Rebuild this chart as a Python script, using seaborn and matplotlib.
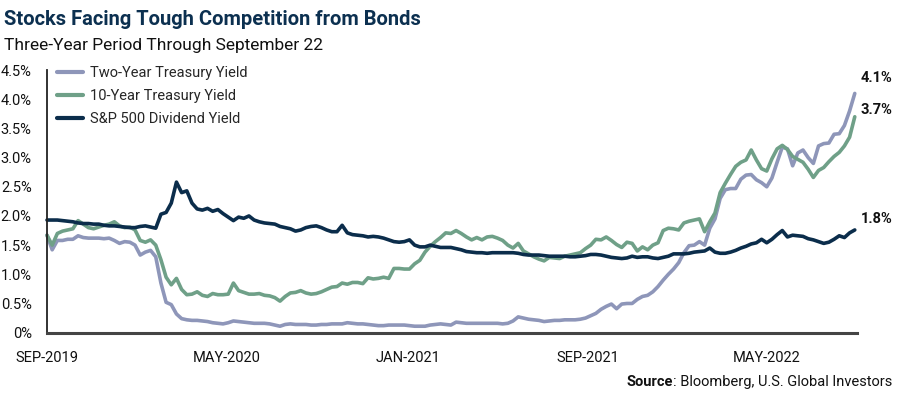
import pandas as pd
import matplotlib
matplotlib.use('Agg')
import matplotlib.pyplot as plt
import seaborn as sns

sns.set_style('white')
plt.rcParams['font.family'] = ['Roboto', 'DejaVu Sans']

# weekly readings, late Sep 2019 through Sep 2022
dates = pd.date_range('2019-09-27', periods=157, freq='7D')

two_year = [
    1.67, 1.42, 1.58, 1.58, 1.60, 1.60, 1.66, 1.63, 1.62, 1.62,
    1.62, 1.61, 1.62, 1.58, 1.53, 1.56, 1.55, 1.50, 1.33, 1.38,
    1.41, 1.30, 0.85, 0.52, 0.48, 0.32, 0.24, 0.22, 0.21, 0.21,
    0.20, 0.19, 0.17, 0.16, 0.15, 0.17, 0.20, 0.19, 0.18, 0.17,
    0.16, 0.16, 0.16, 0.15, 0.13, 0.11, 0.14, 0.15, 0.14, 0.14,
    0.14, 0.13, 0.13, 0.14, 0.14, 0.15, 0.15, 0.15, 0.17, 0.16,
    0.15, 0.15, 0.14, 0.13, 0.12, 0.12, 0.13, 0.13, 0.13, 0.13,
    0.12, 0.11, 0.11, 0.11, 0.13, 0.14, 0.15, 0.14,
    0.13, 0.18, 0.17, 0.16, 0.16, 0.16, 0.16, 0.16, 0.16, 0.16,
    0.15, 0.16, 0.20, 0.27, 0.25, 0.23, 0.22, 0.21, 0.19, 0.20,
    0.21, 0.21, 0.22, 0.22, 0.22, 0.23, 0.25, 0.29, 0.33, 0.40,
    0.45, 0.49, 0.41, 0.49, 0.50, 0.50, 0.57, 0.62, 0.64, 0.70,
    0.79, 0.90, 1.00, 1.09, 1.20, 1.37, 1.49, 1.50, 1.56, 1.50,
    1.79, 1.95, 2.30, 2.45, 2.47, 2.47, 2.63, 2.70, 2.71, 2.62,
    2.57, 2.50, 2.65, 2.92, 3.18, 3.15, 2.86, 3.08, 3.13, 3.00,
    2.90, 3.20, 3.24, 3.25, 3.40, 3.41, 3.55, 3.80, 4.10,
]

ten_year = [
    1.67, 1.50, 1.70, 1.74, 1.76, 1.78, 1.92, 1.86, 1.80, 1.78,
    1.81, 1.84, 1.86, 1.90, 1.83, 1.80, 1.81, 1.76, 1.58, 1.55,
    1.59, 1.50, 1.25, 0.95, 0.82, 0.93, 0.74, 0.65, 0.66, 0.70,
    0.64, 0.62, 0.67, 0.65, 0.65, 0.66, 0.85, 0.72, 0.69, 0.66,
    0.66, 0.67, 0.64, 0.63, 0.60, 0.54, 0.62, 0.68, 0.69, 0.72,
    0.68, 0.66, 0.67, 0.70, 0.74, 0.78, 0.79, 0.85, 0.83, 0.86,
    0.86, 0.84, 0.94, 0.92, 0.93, 0.95, 0.93, 1.10, 1.10, 1.09,
    1.09, 1.18, 1.24, 1.38, 1.48, 1.56, 1.63, 1.71,
    1.70, 1.75, 1.70, 1.64, 1.59, 1.63, 1.59, 1.64, 1.65, 1.62,
    1.58, 1.50, 1.45, 1.53, 1.40, 1.35, 1.30, 1.26, 1.23, 1.29,
    1.28, 1.27, 1.31, 1.33, 1.35, 1.37, 1.44, 1.50, 1.60, 1.59,
    1.64, 1.58, 1.51, 1.46, 1.55, 1.53, 1.40, 1.47, 1.42, 1.50,
    1.54, 1.75, 1.79, 1.78, 1.76, 1.88, 1.91, 1.93, 1.95, 1.73,
    1.90, 2.05, 2.40, 2.56, 2.71, 2.85, 2.92, 2.96, 3.13, 2.96,
    2.81, 2.77, 2.98, 3.15, 3.21, 3.14, 3.02, 2.97, 2.92, 2.80,
    2.66, 2.78, 2.83, 2.93, 3.02, 3.09, 3.20, 3.35, 3.70,
]

dividend = [
    1.93, 1.93, 1.93, 1.92, 1.91, 1.90, 1.88, 1.87, 1.87, 1.86,
    1.86, 1.84, 1.83, 1.83, 1.82, 1.81, 1.80, 1.80, 1.82, 1.83,
    1.81, 1.79, 2.03, 2.06, 2.22, 2.58, 2.40, 2.43, 2.22, 2.12,
    2.10, 2.13, 2.08, 2.11, 2.04, 1.98, 1.92, 1.98, 1.96, 2.00,
    1.93, 1.90, 1.88, 1.87, 1.86, 1.82, 1.80, 1.78, 1.74, 1.76,
    1.80, 1.82, 1.83, 1.80, 1.76, 1.73, 1.73, 1.84, 1.71, 1.68,
    1.67, 1.66, 1.64, 1.65, 1.64, 1.62, 1.59, 1.56, 1.55, 1.56,
    1.59, 1.50, 1.47, 1.47, 1.50, 1.48, 1.46, 1.46,
    1.46, 1.44, 1.42, 1.39, 1.38, 1.37, 1.37, 1.36, 1.37, 1.37,
    1.37, 1.37, 1.37, 1.36, 1.34, 1.33, 1.33, 1.33, 1.32, 1.31,
    1.31, 1.31, 1.31, 1.30, 1.30, 1.31, 1.32, 1.34, 1.34, 1.33,
    1.31, 1.29, 1.28, 1.27, 1.28, 1.31, 1.29, 1.30, 1.30, 1.28,
    1.27, 1.29, 1.31, 1.35, 1.35, 1.35, 1.36, 1.38, 1.39, 1.40,
    1.45, 1.38, 1.36, 1.36, 1.38, 1.41, 1.45, 1.48, 1.52, 1.54,
    1.60, 1.54, 1.60, 1.68, 1.75, 1.64, 1.67, 1.66, 1.65, 1.61,
    1.59, 1.56, 1.53, 1.55, 1.60, 1.66, 1.63, 1.71, 1.76,
]

series_names = ['Two-Year Treasury Yield', '10-Year Treasury Yield', 'S&P 500 Dividend Yield']
end_labels = ['4.1%', '3.7%', '1.8%']
colors = ['#8e96b9', '#6fa088', '#0b2d4b']

tick_dates = pd.to_datetime(['2019-09-27', '2020-05-27', '2021-01-27', '2021-09-27', '2022-05-27'])
tick_labels = ['SEP-2019', 'MAY-2020', 'JAN-2021', 'SEP-2021', 'MAY-2022']
y_ticks = [0, 0.5, 1.0, 1.5, 2.0, 2.5, 3.0, 3.5, 4.0, 4.5]
y_labels = ['0%', '0.5%', '1.0%', '1.5%', '2.0%', '2.5%', '3.0%', '3.5%', '4.0%', '4.5%']

df = pd.DataFrame({'date': dates, series_names[0]: two_year,
                   series_names[1]: ten_year, series_names[2]: dividend})
long_df = df.melt(id_vars='date', var_name='series', value_name='yield')

fig = plt.figure(figsize=(8.97, 3.96), dpi=100)
ax = fig.add_axes([0.0524, 0.160, 0.903, 0.663])

sns.lineplot(data=long_df, x='date', y='yield', hue='series', hue_order=series_names,
             palette=colors, linewidth=2.6, ax=ax, clip_on=False)

ax.set_xlim(dates[0], dates[-1] + pd.Timedelta(days=3))
ax.set_ylim(0, 4.5)
ax.set_xticks(tick_dates)
ax.set_xticklabels(tick_labels, fontsize=10.5, color='#111111')
ax.set_yticks(y_ticks)
ax.set_yticklabels(y_labels, fontsize=10.5, color='#111111')
ax.set_xlabel('')
ax.set_ylabel('')

for side in ['top', 'right']:
    ax.spines[side].set_visible(False)
ax.spines['left'].set_color('#222222')
ax.spines['left'].set_linewidth(1.3)
ax.spines['bottom'].set_color('#444444')
ax.spines['bottom'].set_linewidth(2.2)
ax.tick_params(axis='both', direction='out', length=4, width=1.2, color='#333333', pad=7)
ax.tick_params(axis='x', pad=9)

leg = ax.legend(loc='upper left', bbox_to_anchor=(-0.004, 1.065), frameon=False,
                fontsize=10.5, handlelength=1.8, handletextpad=0.5, labelspacing=0.62)
for line in leg.get_lines():
    line.set_linewidth(3)

# value labels at the end of each line
last_vals = [two_year[-1], ten_year[-1], dividend[-1]]
offsets = [(4, 11), (4, 5), (4, 8)]
for val, lab, off in zip(last_vals, end_labels, offsets):
    ax.annotate(lab, xy=(dates[-1], val), xytext=off, textcoords='offset points',
                fontsize=10.5, fontweight='bold', color='#111111', ha='left', va='center')

fig.text(0.005, 0.975, 'Stocks Facing Tough Competition from Bonds', fontsize=14.5,
         fontweight='bold', color='#0c3050', ha='left', va='top')
fig.text(0.005, 0.905, 'Three-Year Period Through September 22', fontsize=12.5,
         color='#111111', ha='left', va='top')

src = fig.text(0.995, 0.018, ': Bloomberg, U.S. Global Investors', fontsize=10.5,
               color='#111111', ha='right', va='bottom')
fig.canvas.draw()
bb = src.get_window_extent()
fig.text(bb.x0 / fig.bbox.width, 0.018, 'Source', fontsize=10.5, fontweight='bold',
         color='#111111', ha='right', va='bottom')

fig.savefig('out.png', dpi=100)
